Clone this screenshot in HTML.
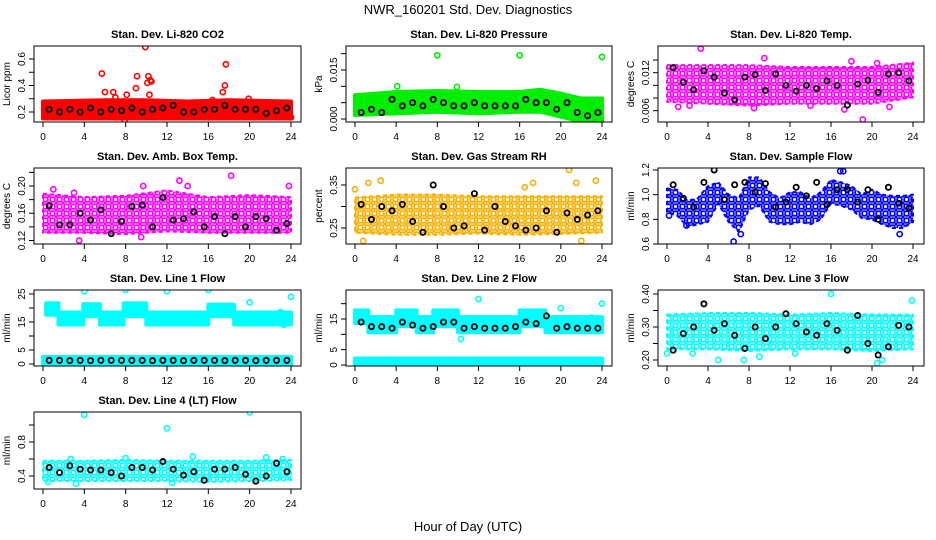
<!DOCTYPE html>
<html><head><meta charset="utf-8">
<style>
html,body{margin:0;padding:0;background:#fff;}
svg{display:block;font-family:"Liberation Sans",sans-serif;}
.t{font-size:11px;font-weight:bold;text-anchor:middle;}
.tk{font-size:10px;text-anchor:middle;}
</style></head>
<body>
<svg id="chart" width="936" height="540" viewBox="0 0 936 540">
<defs id="defs"></defs>
<text x="468" y="14" font-size="13" text-anchor="middle">NWR_160201  Std. Dev. Diagnostics</text>
<text x="468" y="531" font-size="13" text-anchor="middle">Hour of Day (UTC)</text>
<g id="panels"></g>
</svg>
<script>
// Shared x data
const xTicks = [0,4,8,12,16,20,24];
const blackHours = [0.6,1.6,2.6,3.6,4.6,5.6,6.6,7.6,8.6,9.6,10.6,11.6,12.6,13.6,14.6,15.6,16.6,17.6,18.6,19.6,20.6,21.6,22.6,23.6];

// Panel 1: Li-820 CO2
const co2BandH = [0,6,10,14,18,24];
const co2BandLo = [0.17,0.17,0.17,0.17,0.17,0.17];
const co2BandHi = [0.26,0.27,0.27,0.26,0.27,0.26];
const co2OutH = [5.7,6,6.8,7,8.1,7.9,9,9.1,9.9,10.1,10.2,10.3,10.4,10.5,16.4,17.4,17.6,17.7,19.9,24,7.1,16,13.5];
const co2OutV = [0.49,0.35,0.35,0.31,0.33,0.13,0.38,0.47,0.69,0.42,0.47,0.33,0.44,0.43,0.29,0.35,0.4,0.56,0.3,0.16,0.16,0.16,0.27];
const co2Black = [0.22,0.2,0.22,0.2,0.23,0.2,0.22,0.21,0.23,0.2,0.22,0.23,0.25,0.2,0.2,0.22,0.22,0.25,0.22,0.22,0.22,0.19,0.21,0.23];

// Panel 2: Li-820 Pressure
const prBandH = [0,4,8,12,16,18,20,22,24];
const prBandLo = [0.002,0.0025,0.003,0.0025,0.003,0.003,0.0015,0,0];
const prBandHi = [0.0065,0.0075,0.0078,0.0075,0.0075,0.0082,0.007,0.0055,0.0055];
const prOutH = [8,16,24,4.1,9.9];
const prOutV = [0.0195,0.0195,0.019,0.01,0.0098];
const prBlack = [0.002,0.003,0.002,0.006,0.004,0.005,0.004,0.006,0.005,0.004,0.004,0.005,0.004,0.004,0.004,0.004,0.006,0.005,0.005,0.003,0.005,0.002,0.001,0.002];

// Panel 3: Li-820 Temp
const tpBandH = [0,4,8,12,16,20,24];
const tpBandLo = [0.0078,0.0075,0.0072,0.0075,0.0075,0.0075,0.0085];
const tpBandHi = [0.0128,0.0128,0.0128,0.0125,0.0125,0.0125,0.0132];
const tpOutH = [3.3,1.1,9.5,18,19.1,17.3,8.5,20.5,2.2,14,21.7];
const tpOutV = [0.0158,0.0066,0.0143,0.0138,0.0046,0.0062,0.0064,0.0135,0.0068,0.0068,0.0066];
const tpBlack = [0.0128,0.0105,0.0093,0.0123,0.0113,0.0088,0.0077,0.0113,0.0117,0.0092,0.0118,0.0100,0.0091,0.0100,0.0095,0.0107,0.0100,0.0069,0.0102,0.0108,0.0089,0.0118,0.0120,0.0107];

// Panel 4: Amb Box Temp
const abBandH = [0,4,8,12,16,20,24];
const abBandLo = [0.135,0.135,0.133,0.137,0.135,0.135,0.135];
const abBandHi = [0.185,0.18,0.182,0.19,0.18,0.183,0.18];
const abOutH = [3.5,13.2,18.2,9.7,14,23.8,9.5,1,3];
const abOutV = [0.12,0.208,0.215,0.2,0.2,0.2,0.125,0.195,0.19];
const abBlack = [0.171,0.143,0.143,0.16,0.15,0.165,0.13,0.148,0.17,0.172,0.14,0.183,0.15,0.152,0.162,0.14,0.155,0.13,0.155,0.14,0.155,0.152,0.135,0.145];

// Panel 5: Gas Stream RH
const rhBandH = [0,4,8,12,16,20,24];
const rhBandLo = [0.245,0.24,0.24,0.243,0.24,0.242,0.245];
const rhBandHi = [0.315,0.322,0.322,0.318,0.318,0.318,0.318];
const rhOutH = [0,1.3,2.5,20.8,23.4,21.5,0.8,22,17.3,16.5];
const rhOutV = [0.34,0.355,0.36,0.385,0.36,0.355,0.22,0.22,0.355,0.345];
const rhBlack = [0.305,0.27,0.3,0.29,0.305,0.265,0.24,0.35,0.3,0.25,0.255,0.33,0.245,0.3,0.265,0.255,0.245,0.25,0.29,0.24,0.285,0.27,0.28,0.29];

// Panel 6: Sample Flow
const sfBandH = [0,1,2,3,4,5,6,7,8,9,10,11,12,13,14,15,16,17,18,19,20,21,22,23,24];
const sfBandLo = [0.88,0.85,0.76,0.78,0.8,0.95,0.8,0.72,0.9,0.93,0.8,0.78,0.78,0.8,0.78,0.82,0.95,0.93,0.9,0.83,0.82,0.78,0.75,0.75,0.8];
const sfBandHi = [1.03,1.02,0.93,0.95,1.05,1.08,0.98,0.95,1.12,1.12,1.0,0.95,1.0,1.0,0.95,1.0,1.1,1.08,1.05,0.98,1.02,0.98,0.97,0.97,0.98];
const sfOutH = [6.5,7.2,16.9,17.2,4.6,1.9,22.7,0.2];
const sfOutV = [0.62,0.68,1.19,1.19,1.2,0.75,0.68,0.83];
const sfBlack = [1.08,0.97,0.9,1.1,1.2,0.96,1.08,1.1,1.02,1.09,0.9,0.94,1.06,0.99,1.1,0.92,1.04,1.04,0.94,1.04,0.8,1.06,0.93,0.89];

// Panel 7: Line 1 Flow
const l1BandH = [0.3,1.5,1.5,3.9,3.9,5.5,5.5,7.8,7.8,10,10,16,16,18.5,18.5,24];
const l1BandLo = [18.5,18.5,15,15,18,18,15,15,18,18,15,15,18,18,15,15];
const l1BandHi = [20.8,20.8,17.5,17.5,20.5,20.5,17.5,17.5,20.8,20.8,17.5,17.5,20.3,20.3,17.5,17.5];
const l1LowH = [0,24];
const l1LowLo = [0.6,0.6];
const l1LowHi = [1.6,1.6];
const l1OutH = [4,8,12,16,20,24,23,23.3];
const l1OutV = [26,26.5,26,26.5,22,24,18.5,14];
const l1Black = [1.3,1.3,1.2,1.3,1.2,1.3,1.3,1.3,1.3,1.3,1.2,1.3,1.3,1.2,1.3,1.3,1.3,1.2,1.3,1.3,1.2,1.3,1.3,1.3];

// Panel 8: Line 2 Flow
const l2BandH = [0,1.3,1.3,4,4,6,6,7.6,7.6,10,10,16,16,18.5,18.5,24];
const l2BandLo = [14.5,14.5,11.5,11.5,13.5,13.5,11.5,11.5,13.5,13.5,11.5,11.5,13.5,13.5,11.5,11.5];
const l2BandHi = [17,17,14.8,14.8,17,17,14.8,14.8,17,17,14.8,14.8,17,17,14.8,14.8];
const l2LowH = [0,24];
const l2LowLo = [0,0];
const l2LowHi = [1.3,1.3];
const l2OutH = [4,8,12,16,20,24,10.3,23];
const l2OutV = [26,26,21.5,26,18.5,20,8.5,15.5];
const l2Black = [14,12.5,12.5,12,14,13,12,12.5,14,14,12,12.5,12,12,12,12.5,14,13.5,16,12,12.5,12,12,12];

// Panel 9: Line 3 Flow
const l3BandH = [0,4,8,12,16,20,24];
const l3BandLo = [0.24,0.24,0.235,0.24,0.24,0.235,0.24];
const l3BandHi = [0.33,0.335,0.335,0.33,0.335,0.33,0.33];
const l3OutH = [16,23.9,5,20.5,21,0,7.5,2.5,9,12.5];
const l3OutV = [0.4,0.38,0.2,0.19,0.2,0.22,0.2,0.22,0.21,0.22];
const l3Black = [0.23,0.28,0.3,0.37,0.29,0.31,0.275,0.235,0.3,0.265,0.3,0.34,0.31,0.285,0.275,0.31,0.29,0.23,0.335,0.25,0.215,0.24,0.305,0.3];

// Panel 10: Line 4 (LT) Flow
const l4BandH = [0,4,8,12,16,20,24];
const l4BandLo = [0.37,0.37,0.37,0.37,0.36,0.37,0.38];
const l4BandHi = [0.55,0.55,0.56,0.55,0.55,0.55,0.56];
const l4OutH = [4,12,20,0.5,12.5,3.2,2.7,8,14.5,21.6,23.2];
const l4OutV = [1.12,0.96,1.15,0.33,0.32,0.31,0.6,0.61,0.63,0.62,0.6];
const l4Black = [0.5,0.44,0.52,0.48,0.47,0.47,0.44,0.4,0.5,0.5,0.47,0.57,0.48,0.41,0.45,0.35,0.48,0.48,0.5,0.42,0.34,0.4,0.55,0.45];

const panels = [
 {name:'co2',title:'Stan. Dev. Li-820 CO2',yl:'Licor ppm',col:0,row:0,color:'#ff0000',tex:false,r1:[0.2,112],r2:[0.6,59],yt:[0.2,0.3,0.4,0.5,0.6],ylab:[0.2,0.4,0.6],fmt:1,bands:[[co2BandH,co2BandLo,co2BandHi]],oh:co2OutH,ov:co2OutV,bk:co2Black},
 {name:'pressure',title:'Stan. Dev. Li-820 Pressure',yl:'kPa',col:1,row:0,color:'#00ee00',tex:false,r1:[0,119],r2:[0.015,70],yt:[0,0.005,0.01,0.015,0.02],ylab:[0,0.015],fmt:3,bands:[[prBandH,prBandLo,prBandHi]],oh:prOutH,ov:prOutV,bk:prBlack},
 {name:'li820-temp',title:'Stan. Dev. Li-820 Temp.',yl:'degrees C',col:2,row:0,color:'#ff00ff',tex:true,r1:[0.006,110.7],r2:[0.012,72.7],yt:[0.006,0.008,0.01,0.012,0.014],ylab:[0.006,0.012],fmt:3,bands:[[tpBandH,tpBandLo,tpBandHi]],oh:tpOutH,ov:tpOutV,bk:tpBlack},
 {name:'amb-box-temp',title:'Stan. Dev. Amb. Box Temp.',yl:'degrees C',col:0,row:1,color:'#ff00ff',tex:true,r1:[0.12,240.5],r2:[0.2,186],yt:[0.12,0.14,0.16,0.18,0.2,0.22],ylab:[0.12,0.16,0.2],fmt:2,bands:[[abBandH,abBandLo,abBandHi]],oh:abOutH,ov:abOutV,bk:abBlack},
 {name:'gas-rh',title:'Stan. Dev. Gas Stream RH',yl:'percent',col:1,row:1,color:'#f7b000',tex:true,r1:[0.25,228],r2:[0.35,185],yt:[0.25,0.3,0.35],ylab:[0.25,0.35],fmt:2,bands:[[rhBandH,rhBandLo,rhBandHi]],oh:rhOutH,ov:rhOutV,bk:rhBlack},
 {name:'sample-flow',title:'Stan. Dev. Sample Flow',yl:'ml/min',col:2,row:1,color:'#0000ff',tex:true,r1:[1.2,170],r2:[0.6,244],yt:[0.6,0.8,1.0,1.2],ylab:[0.6,0.8,1.0,1.2],fmt:1,bands:[[sfBandH,sfBandLo,sfBandHi]],oh:sfOutH,ov:sfOutV,bk:sfBlack},
 {name:'line1-flow',title:'Stan. Dev. Line 1 Flow',yl:'ml/min',col:0,row:2,color:'#00ffff',tex:false,r1:[0,364],r2:[25,294],yt:[0,5,10,15,20,25],ylab:[0,5,15,25],fmt:0,bands:[[l1BandH,l1BandLo,l1BandHi],[l1LowH,l1LowLo,l1LowHi]],oh:l1OutH,ov:l1OutV,bk:l1Black},
 {name:'line2-flow',title:'Stan. Dev. Line 2 Flow',yl:'ml/min',col:1,row:2,color:'#00ffff',tex:false,r1:[0,365],r2:[15,319],yt:[0,5,10,15,20],ylab:[0,5,15],fmt:0,bands:[[l2BandH,l2BandLo,l2BandHi],[l2LowH,l2LowLo,l2LowHi]],oh:l2OutH,ov:l2OutV,bk:l2Black},
 {name:'line3-flow',title:'Stan. Dev. Line 3 Flow',yl:'ml/min',col:2,row:2,color:'#00ffff',tex:true,r1:[0.4,294],r2:[0.2,360],yt:[0.2,0.25,0.3,0.35,0.4],ylab:[0.2,0.3,0.4],fmt:2,bands:[[l3BandH,l3BandLo,l3BandHi]],oh:l3OutH,ov:l3OutV,bk:l3Black},
 {name:'line4-flow',title:'Stan. Dev. Line 4 (LT) Flow',yl:'ml/min',col:0,row:3,color:'#00ffff',tex:true,r1:[0.4,476],r2:[0.8,442],yt:[0.4,0.6,0.8,1.0],ylab:[0.4,0.8],fmt:1,bands:[[l4BandH,l4BandLo,l4BandHi]],oh:l4OutH,ov:l4OutV,bk:l4Black}
];
const colBox = [[34,301],[346,612],[658,924]];
const colX0 = [43,355,667];
const colX24 = [291,602,913];
const rowBox = [[46,122],[168,244],[290,366],[412,489]];
const NS = 'http://www.w3.org/2000/svg';
const root = document.getElementById('panels');
const defs = document.getElementById('defs');
function mk(tag, attrs, parent){const e=document.createElementNS(NS,tag);for(const k in attrs)e.setAttribute(k,attrs[k]);parent.appendChild(e);return e;}

panels.forEach(p=>{
  const g = mk('g',{},root);
  
  
  const [bx0,bx1]=colBox[p.col], [by0,by1]=rowBox[p.row];
  const xs = h => colX0[p.col] + (colX24[p.col]-colX0[p.col])*h/24;
  const ys = v => p.r1[1] + (v-p.r1[0])*(p.r2[1]-p.r1[1])/(p.r2[0]-p.r1[0]);
  const cp = mk('clipPath',{id:'cp-'+p.name},g);
  mk('rect',{x:bx0,y:by0,width:bx1-bx0,height:by1-by0},cp);
  let fill = p.color;
  if(p.tex){
    const pat = mk('pattern',{id:'pt-'+p.name,patternUnits:'userSpaceOnUse',width:7,height:7},defs);
    mk('rect',{x:0,y:0,width:7,height:7,fill:'#fff'},pat);
    mk('circle',{cx:3.5,cy:3.5,r:2.4,fill:'none',stroke:p.color,'stroke-width':1.8},pat);
    mk('circle',{cx:0,cy:0,r:1.6,fill:p.color},pat);
    mk('circle',{cx:7,cy:0,r:1.6,fill:p.color},pat);
    mk('circle',{cx:0,cy:7,r:1.6,fill:p.color},pat);
    mk('circle',{cx:7,cy:7,r:1.6,fill:p.color},pat);
    fill = 'url(#pt-'+p.name+')';
  }
  const plot = mk('g',{'clip-path':'url(#cp-'+p.name+')'},g);
  p.bands.forEach(b=>{
    const [H,L,U]=b;
    let pts=[];
    for(let i=0;i<H.length;i++) pts.push(xs(H[i])+','+(ys(U[i])-2.5));
    for(let i=H.length-1;i>=0;i--) pts.push(xs(H[i])+','+(ys(L[i])+2.5));
    const poly = mk('polygon',{points:pts.join(' '),fill:fill,stroke:p.color,'stroke-width':p.tex?2:4,'stroke-linejoin':'round','stroke-dasharray':p.tex?'4 3':'none'},plot);
    
    
  });
  p.oh.forEach((h,i)=>{
    const c = mk('circle',{cx:xs(h),cy:ys(p.ov[i]),r:2.6,fill:'none',stroke:p.color,'stroke-width':1.6},plot);
    
    
  });
  p.bk.forEach((v,i)=>{
    const c = mk('circle',{cx:xs(blackHours[i]),cy:ys(v),r:2.6,fill:'none',stroke:'#000','stroke-width':1.8},plot);
    
    
  });
  const box = mk('rect',{x:bx0,y:by0,width:bx1-bx0,height:by1-by0,fill:'none',stroke:'#000','stroke-width':1},g);
  
  
  const t = mk('text',{x:(bx0+bx1)/2,y:by0-8,class:'t'},g);
  t.textContent = p.title;
  
  
  const xa = mk('g',{},g);
  
  
  mk('line',{x1:xs(0),x2:xs(24),y1:by1,y2:by1,stroke:'#000'},xa);
  xTicks.forEach(h=>{
    mk('line',{x1:xs(h),x2:xs(h),y1:by1,y2:by1+5,stroke:'#000'},xa);
    const tt = mk('text',{x:xs(h),y:by1+18,class:'tk'},xa);
    tt.textContent = h;
  });
  const ya = mk('g',{},g);
  
  
  mk('line',{x1:bx0,x2:bx0,y1:ys(p.yt[0]),y2:ys(p.yt[p.yt.length-1]),stroke:'#000'},ya);
  p.yt.forEach(v=>{ mk('line',{x1:bx0-5,x2:bx0,y1:ys(v),y2:ys(v),stroke:'#000'},ya); });
  p.ylab.forEach(v=>{
    const y=ys(v), x=bx0-9;
    const tt = mk('text',{x:x,y:y,class:'tk',transform:'rotate(-90 '+x+' '+y+')'},ya);
    tt.textContent = v.toFixed(p.fmt);
  });
  const yx = bx0-24, yy=(by0+by1)/2;
  const yl = mk('text',{x:yx,y:yy,'font-size':10,'text-anchor':'middle',transform:'rotate(-90 '+yx+' '+yy+')'},g);
  yl.textContent = p.yl;
  
  
});
</script>
</body></html>
